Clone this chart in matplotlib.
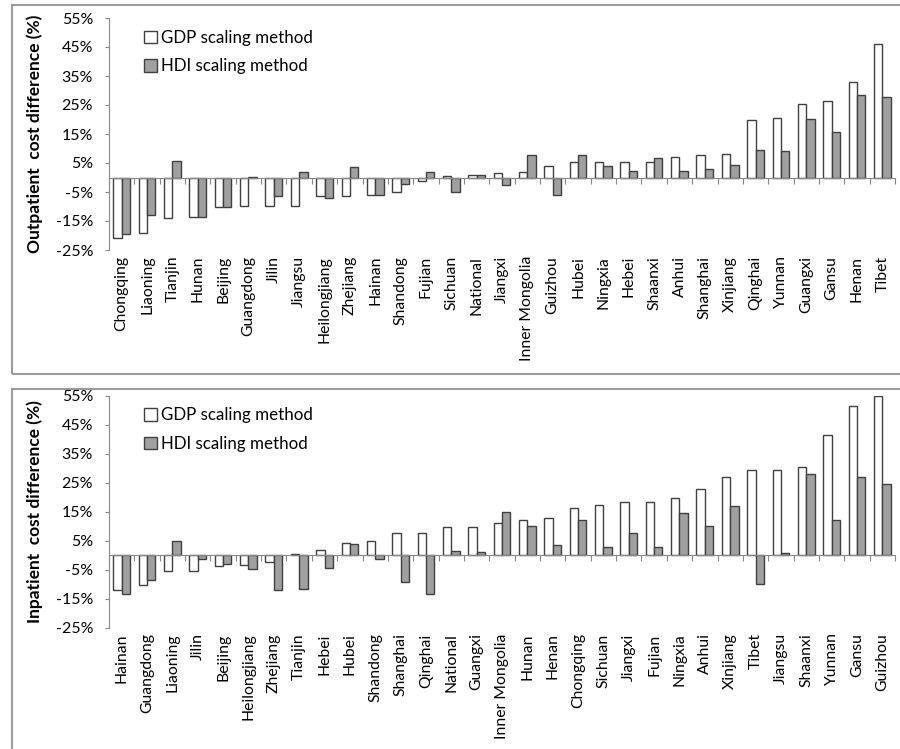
import matplotlib.pyplot as plt
import numpy as np
from matplotlib.patches import Patch, Rectangle
import matplotlib.transforms as mtransforms

plt.rcParams['font.family'] = ['Lato', 'DejaVu Sans']

# outpatient panel
out_regions = ['Chongqing', 'Liaoning', 'Tianjin', 'Hunan', 'Beijing', 'Guangdong', 'Jilin',
               'Jiangsu', 'Heilongjiang', 'Zhejiang', 'Hainan', 'Shandong', 'Fujian', 'Sichuan',
               'National', 'Jiangxi', 'Inner Mongolia', 'Guizhou', 'Hubei', 'Ningxia', 'Hebei',
               'Shaanxi', 'Anhui', 'Shanghai', 'Xinjiang', 'Qinghai', 'Yunnan', 'Guangxi',
               'Gansu', 'Henan', 'Tibet']
out_gdp = [-20.9, -19.0, -14.1, -13.7, -10.3, -9.9, -9.9, -9.9, -6.4, -6.4, -6.0, -5.1, -1.1, 0.5,
           0.9, 1.4, 1.8, 3.8, 5.2, 5.2, 5.2, 5.2, 7.1, 7.6, 8.0, 19.7, 20.6, 25.4, 26.4, 33.1, 46.2]
out_hdi = [-19.5, -12.8, 5.6, -13.7, -10.3, 0.3, -6.4, 1.8, -6.9, 3.7, -6.0, -2.1, 1.8, -5.1,
           0.9, -2.5, 7.6, -6.0, 7.6, 3.8, 2.3, 6.7, 2.3, 2.8, 4.3, 9.5, 9.1, 20.1, 15.7, 28.3, 27.8]

# inpatient panel
in_regions = ['Hainan', 'Guangdong', 'Liaoning', 'Jilin', 'Beijing', 'Heilongjiang', 'Zhejiang',
              'Tianjin', 'Hebei', 'Hubei', 'Shandong', 'Shanghai', 'Qinghai', 'National', 'Guangxi',
              'Inner Mongolia', 'Hunan', 'Henan', 'Chongqing', 'Sichuan', 'Jiangxi', 'Fujian',
              'Ningxia', 'Anhui', 'Xinjiang', 'Tibet', 'Jiangsu', 'Shaanxi', 'Yunnan', 'Gansu',
              'Guizhou']
in_gdp = [-12.0, -10.2, -5.4, -5.4, -3.9, -3.4, -2.5, 0.5, 1.8, 4.3, 4.7, 7.6, 7.6, 9.5, 9.5,
          11.0, 12.0, 12.9, 16.2, 17.2, 18.2, 18.2, 19.7, 22.6, 27.0, 29.4, 29.4, 30.3, 41.4,
          51.4, 55.0]
in_hdi = [-13.4, -8.7, 4.7, -1.5, -3.0, -4.9, -12.2, -11.7, -4.5, 3.8, -1.5, -9.3, -13.6, 1.4,
          0.9, 14.8, 10.0, 3.3, 12.0, 2.8, 7.6, 2.8, 14.4, 10.0, 16.8, -10.1, 0.8, 27.9, 12.0,
          27.0, 24.6]

yticks = [-25, -15, -5, 5, 15, 25, 35, 45, 55]

fig = plt.figure(figsize=(9, 7.49), dpi=100)

# panel frames
for y0, h in [(375 / 749, 369 / 749), (-0.01, 367 / 749)]:
    fig.patches.append(Rectangle((12 / 900, y0), 1.0, h, transform=fig.transFigure,
                                 fill=False, edgecolor='#9a9a9a', linewidth=1.5))


def panel(rect, regions, gdp, hdi, ylabel):
    ax = fig.add_axes(rect)
    x = np.arange(len(regions))
    w = 0.33
    ax.bar(x - w / 2, gdp, w, color='white', edgecolor='#404040', linewidth=1, zorder=2)
    ax.bar(x + w / 2, hdi, w, color='#a0a0a0', edgecolor='#404040', linewidth=1, zorder=2)
    ax.set_xlim(-0.5, len(regions) - 0.5)
    ax.set_ylim(-25, 55)
    ax.set_yticks(yticks)
    ax.set_yticklabels(['%d%%' % t for t in yticks], fontsize=11.5)
    ax.tick_params(axis='y', length=3, color='#888888', pad=8.5)
    for s in ['top', 'right']:
        ax.spines[s].set_visible(False)
    ax.spines['left'].set_color('#888888')
    ax.spines['bottom'].set_position(('data', 0))
    ax.spines['bottom'].set_color('#888888')
    ax.spines['bottom'].set_zorder(3)
    ax.set_xticks(np.arange(len(regions) + 1) - 0.5)
    ax.set_xticklabels([])
    ax.tick_params(axis='x', length=4, color='#888888')
    trans = mtransforms.blended_transform_factory(ax.transData, ax.transAxes)
    for i, r in enumerate(regions):
        ax.text(i, -0.025, r, rotation=90, ha='center', va='top', fontsize=11.3, transform=trans)
    handles = [Patch(facecolor='white', edgecolor='#404040', label='GDP scaling method'),
               Patch(facecolor='#a0a0a0', edgecolor='#404040', label='HDI scaling method')]
    ax.legend(handles=handles, loc='upper left', bbox_to_anchor=(0.025, 1.015), frameon=False,
              fontsize=12.2, handlelength=0.75, handleheight=0.75, handletextpad=0.25,
              labelspacing=0.75)
    bb = ax.get_position()
    fig.text(35 / 900, bb.y0 + bb.height / 2, ylabel, rotation=90, ha='center', va='center',
             fontsize=12.5, fontweight='bold')
    return ax


panel([109 / 900, 499 / 749, 786 / 900, 232 / 749], out_regions, out_gdp, out_hdi,
      'Outpatient  cost difference (%)')
panel([109 / 900, 121.5 / 749, 786 / 900, 232 / 749], in_regions, in_gdp, in_hdi,
      'Inpatient  cost difference (%)')

fig.savefig('out.png', dpi=100)
